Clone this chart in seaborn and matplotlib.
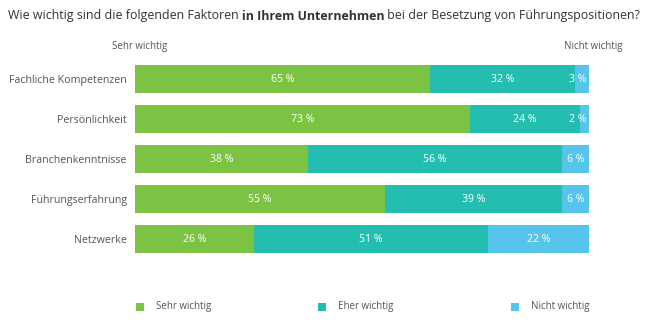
import matplotlib
matplotlib.use("Agg")
import matplotlib.pyplot as plt
from matplotlib.patches import Rectangle
import seaborn as sns
import pandas as pd
import numpy as np

# Survey data: importance of factors when filling leadership positions
factors = ["Fachliche Kompetenzen", "Persönlichkeit", "Branchenkenntnisse",
           "Führungserfahrung", "Netzwerke"]
sehr_wichtig = [65, 73, 38, 55, 26]
eher_wichtig = [32, 24, 56, 39, 51]
nicht_wichtig = [3, 2, 6, 6, 22]
levels = ["Sehr wichtig", "Eher wichtig", "Nicht wichtig"]
colors = ["#7DC343", "#23BEB0", "#56C4EB"]

sns.set_theme(style="white")
plt.rcParams["font.family"] = ["Open Sans", "DejaVu Sans"]

W, H = 655, 324
fig = plt.figure(figsize=(W / 100, H / 100), dpi=100)
ax = fig.add_axes([135 / W, 1 - 259 / H, 454 / W, 200 / H])

values = np.array([sehr_wichtig, eher_wichtig, nicht_wichtig], dtype=float)
shares = values / values.sum(axis=0) * 100
cum = np.cumsum(shares, axis=0)

# Stacked bars drawn as overlapping cumulative bars, longest first
for i in reversed(range(len(levels))):
    df = pd.DataFrame({"Faktor": factors, "Anteil": cum[i]})
    sns.barplot(data=df, x="Anteil", y="Faktor", order=factors,
                color=colors[i], saturation=1, width=0.7, linewidth=0,
                ax=ax)

# Value labels centred in each segment (kept inside the bar end)
for i in range(len(levels)):
    for j in range(len(factors)):
        centre = cum[i, j] - shares[i, j] / 2
        centre = min(centre, 97.4)
        ax.text(centre, j, f"{int(values[i, j])} %", ha="center", va="center",
                color="white", fontsize=7.6)

ax.set_xlim(0, 100)
ax.set_ylim(len(factors) - 0.5, -0.5)
ax.set_xlabel("")
ax.set_ylabel("")
ax.set_xticks([])
ax.tick_params(axis="y", length=0, pad=6, labelsize=7.7, labelcolor="#555555")
for s in ax.spines.values():
    s.set_visible(False)

# Scale end labels
fig.text(140 / W, 1 - 46 / H, "Sehr wichtig", ha="center", va="center",
         fontsize=7, color="#555555")
fig.text(593 / W, 1 - 46 / H, "Nicht wichtig", ha="center", va="center",
         fontsize=7, color="#555555")

# Title with a bold middle part, scaled to span the figure width
parts = [("Wie wichtig sind die folgenden Faktoren ", "normal"),
         ("in Ihrem Unternehmen", "bold"),
         (" bei der Besetzung von Führungspositionen?", "normal")]
fig.canvas.draw()
renderer = fig.canvas.get_renderer()
size = 9.5
widths = []
for txt, weight in parts:
    t = fig.text(0, 0, txt, fontsize=size, fontweight=weight)
    widths.append(t.get_window_extent(renderer=renderer).width)
    t.remove()
size = size * 637 / sum(widths)
x = 8
for txt, weight in parts:
    t = fig.text(x / W, 1 - 16 / H, txt, ha="left", va="center",
                 fontsize=size, fontweight=weight, color="#333333")
    x += t.get_window_extent(renderer=renderer).width

# Legend
legend_pos = [(140, 156), (322, 338), (515, 531)]
for (sq, tx), lab, col in zip(legend_pos, levels, colors):
    fig.add_artist(Rectangle(((sq - 4) / W, 1 - 311 / H), 8 / W, 8 / H,
                             transform=fig.transFigure, color=col, lw=0))
    fig.text(tx / W, 1 - 307 / H, lab, ha="left", va="center",
             fontsize=7, color="#555555")

fig.savefig("out.png", dpi=100)
